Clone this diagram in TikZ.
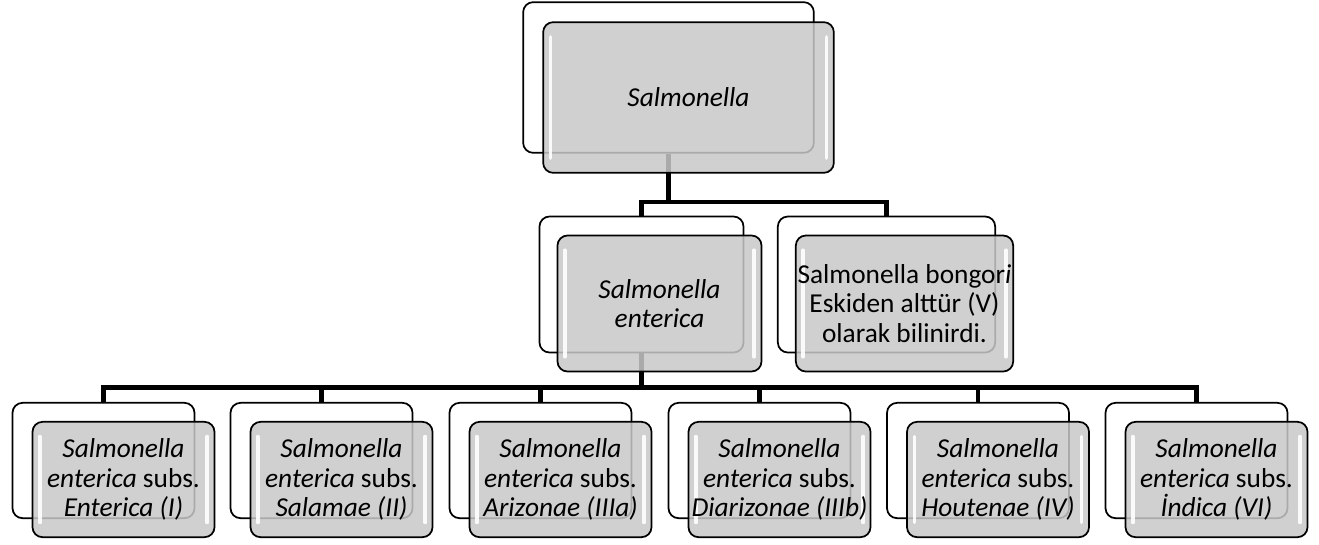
\documentclass[tikz,border=0pt]{standalone}
\usepackage{fontspec}
\setmainfont{Carlito}
\usetikzlibrary{positioning,calc}

\definecolor{boxgray}{RGB}{200,200,200}

\begin{document}
\begin{tikzpicture}[
    x=0.75pt, y=-0.75pt,
    backbox/.style={draw, line width=1.3pt, fill=white, rounded corners=7.5pt, inner sep=0pt},
    frontbox/.style={draw, line width=1.3pt, fill=boxgray, fill opacity=0.85, text opacity=1,
        rounded corners=7.5pt, inner sep=0pt, align=center, font=\fontsize{20.5}{22}\selectfont,
        path picture={
            \draw[white, line width=2.6pt, line cap=round, opacity=0.9]
              ([shift={(5.5pt,-11pt)}]path picture bounding box.north west)
                -- ([shift={(5.5pt,11pt)}]path picture bounding box.south west)
              ([shift={(-5.5pt,-11pt)}]path picture bounding box.north east)
                -- ([shift={(-5.5pt,11pt)}]path picture bounding box.south east);
        }},
    topsize/.style={minimum width=218pt, minimum height=113pt},
    leftsize/.style={minimum width=153pt, minimum height=102pt},
    rightsize/.style={minimum width=163pt, minimum height=102pt},
    subsize/.style={minimum width=136.5pt, minimum height=86.5pt},
    conn/.style={line width=3.6pt}
]
\useasboundingbox (0,0) rectangle (1319,544);

% back boxes
\node[backbox, topsize] (genus) at (668.5,77.5) {};
\node[backbox, leftsize] (ent) at (641.5,284.5) {};
\node[backbox, rightsize] (bong) at (886.5,284.5) {};
\node[backbox, subsize] (s1) at (103.5,460.5) {};
\node[backbox, subsize] (s2) at (321.5,460.5) {};
\node[backbox, subsize] (s3) at (540.5,460.5) {};
\node[backbox, subsize] (s4) at (759.5,460.5) {};
\node[backbox, subsize] (s5) at (978,460.5) {};
\node[backbox, subsize] (s6) at (1196.5,460.5) {};

% bars of the tree
\coordinate (bar1) at (0,202);
\coordinate (bar2) at (0,387.5);

\draw[conn] (genus.south) -- (genus.south |- bar1) -| (ent.north);
\draw[conn] (genus.south |- bar1) -| (bong.north);
\draw[conn] (ent.south) -- (ent.south |- bar2) -| (s1.north);
\draw[conn] (ent.south |- bar2) -| (s2.north);
\draw[conn] (ent.south |- bar2) -| (s3.north);
\draw[conn] (ent.south |- bar2) -| (s4.north);
\draw[conn] (ent.south |- bar2) -| (s5.north);
\draw[conn] (ent.south |- bar2) -| (s6.north);

% front boxes
\node[frontbox, topsize] (genusF) at ([shift={(20,20)}]genus.center) {\textit{Salmonella}};
\node[frontbox, leftsize] (entF) at ([shift={(18,19)}]ent.center) {\textit{Salmonella}\\\textit{enterica}};
\node[frontbox, rightsize] (bongF) at ([shift={(18,19)}]bong.center) {Salmonella bongor\textit{i}\\Eskiden alttür (V)\\olarak bilinirdi.};
\node[frontbox, subsize] (s1F) at ([shift={(20,19)}]s1.center) {\textit{Salmonella}\\\textit{enterica} subs.\\\textit{Enterica (I)}};
\node[frontbox, subsize] (s2F) at ([shift={(20,19)}]s2.center) {\textit{Salmonella}\\\textit{enterica} subs.\\\textit{Salamae (II)}};
\node[frontbox, subsize] (s3F) at ([shift={(20,19)}]s3.center) {\textit{Salmonella}\\\textit{enterica} subs.\\\textit{Arizonae (IIIa)}};
\node[frontbox, subsize] (s4F) at ([shift={(20,19)}]s4.center) {\textit{Salmonella}\\\textit{enterica} subs.\\\textit{Diarizonae (IIIb)}};
\node[frontbox, subsize] (s5F) at ([shift={(20,19)}]s5.center) {\textit{Salmonella}\\\textit{enterica} subs.\\\textit{Houtenae (IV)}};
\node[frontbox, subsize] (s6F) at ([shift={(20,19)}]s6.center) {\textit{Salmonella}\\\textit{enterica} subs.\\\textit{İndica (VI)}};
\end{tikzpicture}
\end{document}
